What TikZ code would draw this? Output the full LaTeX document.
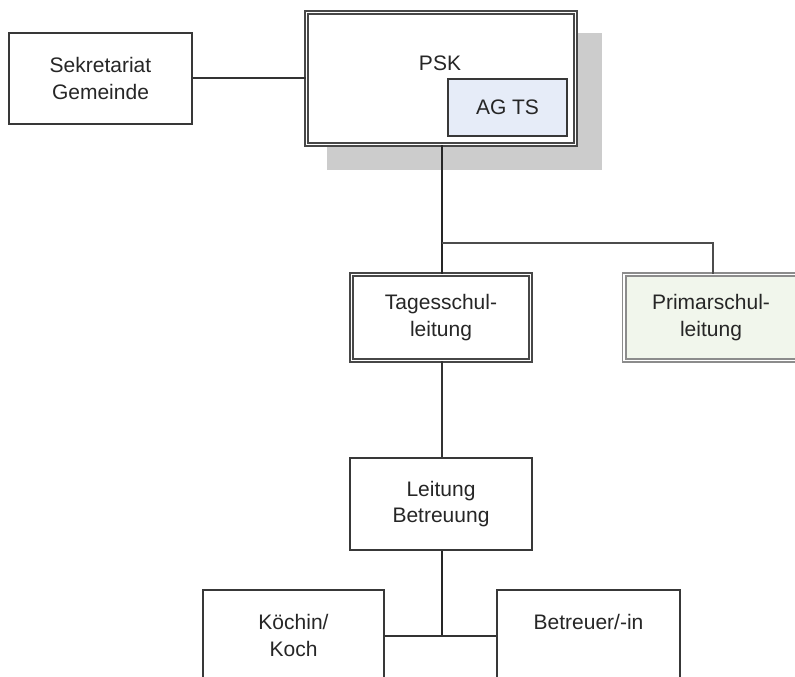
\documentclass[tikz,border=0pt]{standalone}
\usepackage{fontspec}
\setmainfont{Liberation Sans}
\begin{document}
\begin{tikzpicture}[x=1bp,y=-1bp,
  every node/.style={font=\fontsize{21bp}{26.5bp}\selectfont, text=black!85, align=center, inner sep=0pt},
  box/.style={draw=black!78, line width=1.6bp, fill=white, rectangle},
  dbox/.style={draw=black!72, double=white, double distance=1.6bp, line width=1.7bp, fill=white, rectangle},
  conn/.style={draw=black!80, line width=2bp},
  thickconn/.style={draw=black!85, line width=2.6bp}]
\clip (0,0) rectangle (795,677);
\useasboundingbox (0,0) rectangle (795,677);
% shadow of PSK
\fill[black!20] (327,33) rectangle (602,170);
% nodes
\node[box, minimum width=183bp, minimum height=91bp] (sek) at (100.5,78.5) {Sekretariat\\Gemeinde};
\node[dbox, minimum width=269bp, minimum height=132bp] (psk) at (441,78.5) {};
\node (psklabel) at (440,63) {PSK};
\node[box, fill={rgb,255:red,230;green,236;blue,248}, minimum width=119bp, minimum height=57bp] (agts) at (507.5,107.5) {AG TS};
\node[dbox, minimum width=179bp, minimum height=86bp] (tag) at (441,317.5) {Tagesschul-\\leitung};
\node[dbox, draw=black!45, fill={rgb,255:red,241;green,246;blue,236}, minimum width=174bp, minimum height=86bp] (prim) at (711,317.5) {Primarschul-\\leitung};
\node[box, minimum width=182bp, minimum height=92bp] (leit) at (441,504) {Leitung\\Betreuung};
\node[box, minimum width=181bp, minimum height=91bp] (koch) at (293.5,635.5) {Köchin/\\Koch};
\node[box, minimum width=183bp, minimum height=91bp] (betr) at (588.5,635.5) {Betreuer/-in\\\mbox{}};
% connectors
\coordinate (br) at (442,243);
\draw[conn] (sek.east) -- (psk.west);
\draw[thickconn] (psk.south -| br) -- (tag.north -| br);
\draw[conn, draw=black!70] (br) -| (prim.north -| 713,0);
\draw[conn, line width=1.6bp] (tag.south -| br) -- (leit.north -| br);
\draw[thickconn] (leit.south -| br) -- (koch.east -| br);
\draw[conn] (koch.east) -- (betr.west);
\end{tikzpicture}
\end{document}
